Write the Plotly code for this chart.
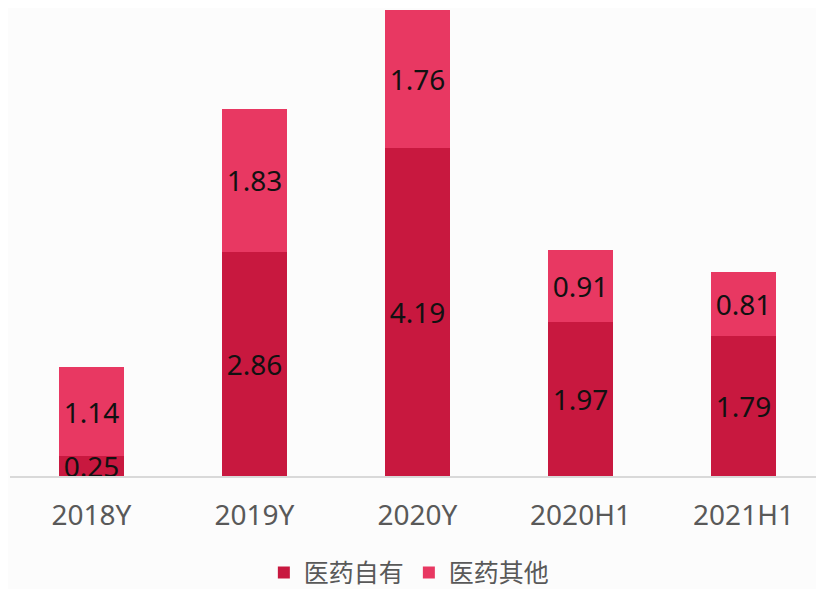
import plotly.graph_objects as go

categories = ["2018Y", "2019Y", "2020Y", "2020H1", "2021H1"]
own_values = [0.25, 2.86, 4.19, 1.97, 1.79]
other_values = [1.14, 1.83, 1.76, 0.91, 0.81]

FONT = "Noto Sans, Noto Sans CJK SC, sans-serif"

fig = go.Figure()
fig.add_trace(go.Bar(
    x=categories, y=own_values, name="医药自有",
    marker=dict(color="#C8183F", line=dict(width=0)),
    text=[f"{v:.2f}" for v in own_values],
    textposition="inside", insidetextanchor="middle",
    textfont=dict(color="#111111", size=28, family=FONT),
    width=0.4,
))
fig.add_trace(go.Bar(
    x=categories, y=other_values, name="医药其他",
    marker=dict(color="#E83862", line=dict(width=0)),
    text=[f"{v:.2f}" for v in other_values],
    textposition="inside", insidetextanchor="middle",
    textfont=dict(color="#111111", size=28, family=FONT),
    width=0.4,
))

fig.update_layout(
    barmode="stack",
    width=824, height=589,
    margin=dict(l=2, r=7, t=2, b=121, autoexpand=False),
    paper_bgcolor="#FCFCFC", plot_bgcolor="#FCFCFC",
    font=dict(family=FONT, color="#595959"),
    uniformtext=dict(minsize=28, mode="show"),
    showlegend=True,
    legend=dict(orientation="h", x=0.49, xanchor="center",
                yref="container", y=0.041, yanchor="middle",
                font=dict(size=25, color="#595959", family=FONT), itemwidth=30,
                traceorder="normal"),
)
fig.update_xaxes(showline=True, linecolor="#D9D9D9", linewidth=1.5,
                 tickfont=dict(size=28, color="#595959", family=FONT), ticks="",
                 ticklabelstandoff=14, showgrid=False)
fig.update_yaxes(range=[0, 5.95], showgrid=False, zeroline=False,
                 showticklabels=False, showline=False)

fig.write_html("out.html")
